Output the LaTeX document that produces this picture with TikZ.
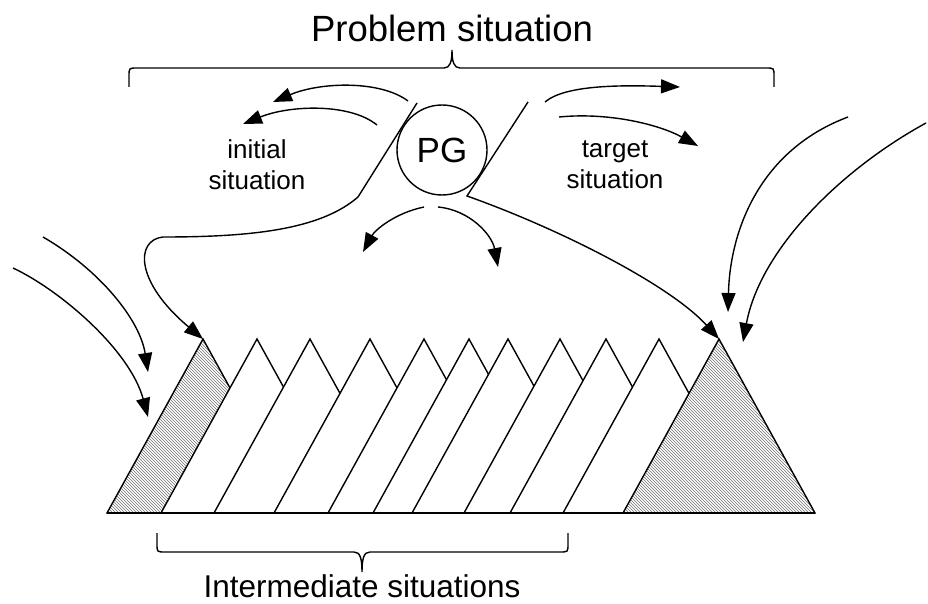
\documentclass[tikz,border=0pt]{standalone}
\usepackage{fontspec}
\setmainfont{Liberation Sans}
\usetikzlibrary{arrows.meta,patterns}
\begin{document}
\begin{tikzpicture}[x=1pt,y=-1pt,line width=1.4pt,
  arr/.style={-{Triangle[length=19pt,width=14pt]}},
  hatchtri/.style={draw,preaction={fill=white},pattern=north west lines,pattern color=black!55},
  whitetri/.style={draw,fill=white},
  lbl/.style={font=\fontsize{26}{31}\selectfont,align=center,inner sep=0pt},
  big/.style={font=\fontsize{36.5}{42}\selectfont,inner sep=0pt}]
\useasboundingbox (0,0) rectangle (928,604);

% titles
\node[big,anchor=base] (title) at (452,42) {Problem situation};
\node[font=\fontsize{31.5}{36}\selectfont,inner sep=0pt,anchor=base] (inter) at (362,597) {Intermediate situations};

% braces
\draw (129,87) -- (129,76) .. controls (129,68) .. (137,68) -- (444,68)
  .. controls (450,68) and (452,62) .. (452,50)
  .. controls (452,62) and (454,68) .. (460,68) -- (766,68)
  .. controls (774,68) .. (774,76) -- (774,87);
\draw (157,533) -- (157,544) .. controls (157,552) .. (165,552) -- (354,552)
  .. controls (360,552) and (362,558) .. (362,572)
  .. controls (362,558) and (364,552) .. (370,552) -- (560,552)
  .. controls (568,552) .. (568,544) -- (568,533);

% PG
\node[draw,circle,minimum size=90pt,inner sep=0pt,font=\fontsize{35}{40}\selectfont] (pg) at (442,150) {PG};
\node[lbl] (init) at (257,165) {initial\\situation};
\node[lbl] (targ) at (615,165) {target\\situation};

% triangles
\draw[hatchtri] (107,513) -- (203,339) -- (299,513) -- cycle;
\foreach \L in {161,214,274,328,373,412,464,510,563}
  \draw[whitetri] (\L,513) -- ({\L+96},339) -- ({\L+192},513) -- cycle;
\draw[hatchtri] (623,513) -- (719,339) -- (815,513) -- cycle;
\coordinate (apexL) at (203,339);
\coordinate (apexR) at (719,339);
\draw[line width=2.2pt] (107,513) -- (815,513);

% slash lines from PG
\coordinate (sl1) at (417,103);
\coordinate (sl2) at (358,197);
\coordinate (sl3) at (163,237);
\draw[arr] (sl1) -- (sl2) .. controls (320,230) and (250,237) .. (sl3)
  .. controls (135,240) and (135,282) .. (apexL);
\coordinate (sr1) at (528,102);
\coordinate (sr2) at (467,196);
\draw[arr] (sr1) -- (sr2) .. controls (560,229) and (670,285) .. (apexR);

% top-left arrows
\coordinate (a1s) at (408,101); \coordinate (a1e) at (273,102);
\draw[arr] (a1s) .. controls (380,80) and (320,82) .. (a1e);
\coordinate (a2s) at (377,125); \coordinate (a2e) at (243,124);
\draw[arr] (a2s) .. controls (350,103) and (290,105) .. (a2e);

% top-right arrows
\coordinate (b1s) at (545,102); \coordinate (b1e) at (680,87);
\draw[arr] (b1s) .. controls (565,85) and (620,85) .. (b1e);
\coordinate (b2s) at (559,117); \coordinate (b2e) at (698,146);
\draw[arr] (b2s) .. controls (610,112) and (660,125) .. (b2e);

% arrows below PG
\coordinate (c1s) at (424,207); \coordinate (c1e) at (363,252);
\draw[arr] (c1s) .. controls (395,213) and (375,230) .. (c1e);
\coordinate (c2s) at (438,207); \coordinate (c2e) at (498,267);
\draw[arr] (c2s) .. controls (470,210) and (492,235) .. (c2e);

% right side arrows
\coordinate (d1s) at (848,117); \coordinate (d1e) at (728,312);
\draw[arr] (d1s) .. controls (760,150) and (730,230) .. (d1e);
\coordinate (d2s) at (926,123); \coordinate (d2e) at (743,342);
\draw[arr] (d2s) .. controls (840,170) and (760,250) .. (d2e);

% left side arrows
\coordinate (e1s) at (43,237); \coordinate (e1e) at (148,372);
\draw[arr] (e1s) .. controls (100,270) and (140,320) .. (e1e);
\coordinate (e2s) at (13,268); \coordinate (e2e) at (148,417);
\draw[arr] (e2s) .. controls (60,290) and (130,350) .. (e2e);
\end{tikzpicture}
\end{document}
